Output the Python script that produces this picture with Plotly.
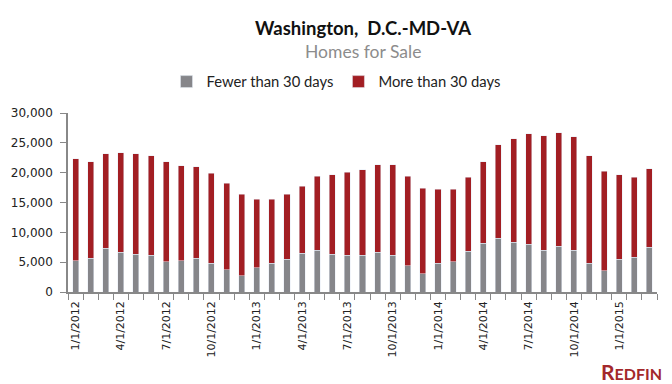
import plotly.graph_objects as go

months = [f"{m}/1/{y}" for y in (2012, 2013, 2014, 2015) for m in range(1, 13)][:39]
fewer_30 = [5280, 5620, 7300, 6630, 6290, 6120, 5110, 5280, 5620, 4780, 3760, 2750,
            4100, 4780, 5450, 6460, 6970, 6290, 6120, 6120, 6630, 6120, 4440, 3090,
            4780, 5110, 6800, 8150, 8990, 8320, 7980, 6970, 7640, 6970, 4780, 3600,
            5450, 5790, 7470]
total = [22300, 21800, 23150, 23320, 23150, 22810, 21800, 21120, 20960, 19940, 18260, 16400,
         15560, 15560, 16400, 17750, 19440, 19610, 20110, 20450, 21290, 21290, 19440, 17420,
         17250, 17250, 19270, 21800, 24660, 25670, 26520, 26180, 26690, 26010, 22810, 20280,
         19610, 19270, 20620]
more_30 = [t - f for t, f in zip(total, fewer_30)]
tick_text = [m if m.split("/")[0] in ("1", "4", "7", "10") else "" for m in months]
y_ticks = [0, 5000, 10000, 15000, 20000, 25000, 30000]

FONT = "Lato"
TICKFONT = "DejaVu Sans"
GRAY = "#86868a"
RED = "#a21e23"

W, H = 672, 384
ML, MR, MT, MB = 68, 15, 113, 92
plot_w = W - ML - MR
plot_h = H - MT - MB


def py(pix):
    return (H - MB - pix) / plot_h


def px(pix):
    return (pix - ML) / plot_w


fig = go.Figure()
fig.add_bar(x=months, y=fewer_30, name="Fewer than 30 days", marker_color=GRAY)
fig.add_bar(x=months, y=more_30, name="More than 30 days", marker_color=RED)

fig.update_layout(
    width=W, height=H,
    barmode="stack", bargap=0.6,
    margin=dict(l=ML, r=MR, t=MT, b=MB, autoexpand=False),
    paper_bgcolor="white", plot_bgcolor="white",
    font=dict(family=FONT, size=13, color="#222"),
    showlegend=True,
    legend=dict(orientation="h", x=px(336), xanchor="center", y=py(82), yanchor="middle",
                font=dict(size=14.8, color="#222"), itemwidth=30, traceorder="normal"),
    annotations=[
        dict(text="<b>Washington,  D.C.-MD-VA</b>", x=0.5, xref="paper", y=py(28), yref="paper",
             yanchor="middle", showarrow=False, font=dict(size=18.5, color="#111")),
        dict(text="Homes for Sale", x=0.5, xref="paper", y=py(51), yref="paper",
             yanchor="middle", showarrow=False, font=dict(size=17.5, color="#8c8c8c")),
        dict(text="<b><span style='font-size:21px'>R</span>EDFIN</b>", x=px(664), y=py(371),
             xref="paper", yref="paper", xanchor="right", yanchor="middle",
             showarrow=False, font=dict(size=16, color="#a3282b")),
    ],
)

fig.update_xaxes(
    type="category", tickson="boundaries", tickmode="array",
    tickvals=months, ticktext=tick_text, tickangle=-90,
    ticks="outside", ticklen=6, tickcolor="#888", tickwidth=1,
    showline=True, linecolor="#888", linewidth=1.5, showgrid=False,
    tickfont=dict(family=TICKFONT, size=11, color="#222"), ticklabelstandoff=3,
)
fig.update_yaxes(
    range=[0, 30000], tickmode="array", tickvals=y_ticks,
    tickformat=",", ticks="outside", ticklen=6, tickcolor="#888",
    showline=True, linecolor="#888", linewidth=1.5, showgrid=False,
    tickfont=dict(family=TICKFONT, size=12, color="#222"), zeroline=False,
    ticklabelstandoff=5,
)

fig.write_html("out.html", config={"displayModeBar": False},
               post_script="document.body.style.margin='0';")
